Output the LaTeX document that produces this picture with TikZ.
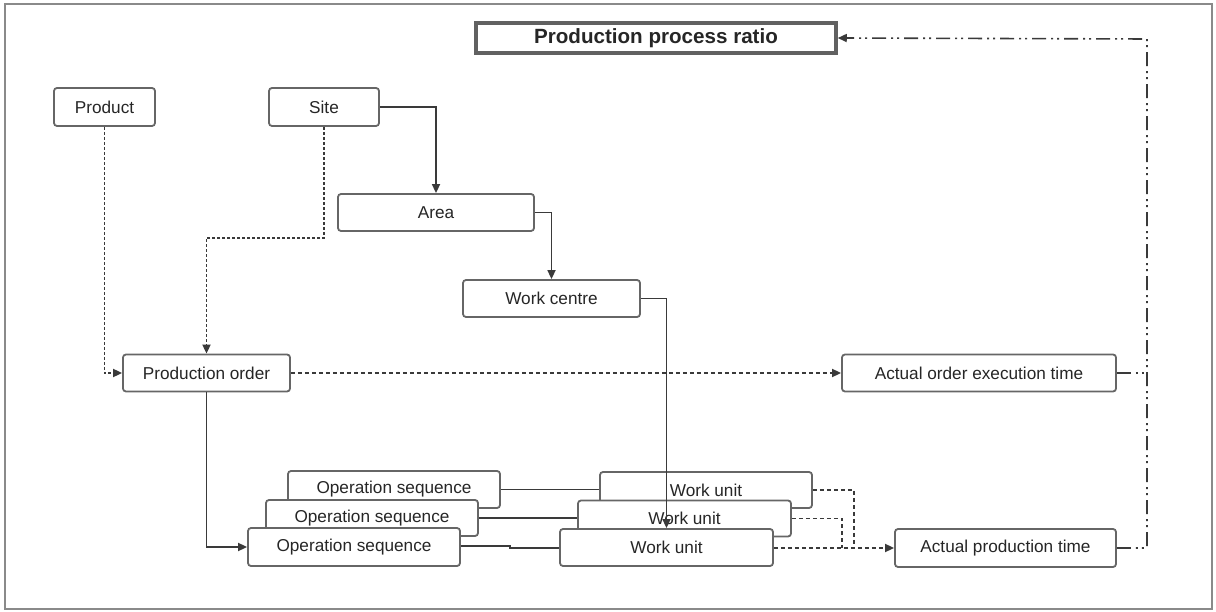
\documentclass[tikz,border=0pt]{standalone}
\usepackage{fontspec}
\setmainfont{Liberation Sans}
\usetikzlibrary{arrows.meta,calc}
\definecolor{boxline}{HTML}{666666}
\definecolor{wire}{HTML}{3A3A3A}
\definecolor{ink}{HTML}{262626}
\definecolor{framegray}{HTML}{8A8A8A}
\tikzset{
  entity/.style={draw=boxline, line width=1.8pt, rounded corners=3pt, fill=white,
    text=ink, inner sep=0pt, font=\fontsize{17.2}{20}\selectfont},
  titlebox/.style={draw=black!62, line width=3.5pt, fill=white, text=ink,
    inner sep=0pt, font=\bfseries\fontsize{20.6}{24}\selectfont},
  tip/.style={-{Triangle[length=9pt,width=8pt]}},
  solidwire/.style={draw=wire, line width=1.7pt},
  dotwire/.style={draw=wire, line width=1.8pt, dash pattern=on 3pt off 2pt},
  dashwire/.style={draw=wire, line width=1.7pt, dash pattern=on 4pt off 3pt},
  dashdotwire/.style={draw=wire, line width=1.6pt,
    dash pattern=on 14pt off 5pt on 2pt off 4pt on 2pt off 5pt}
}
\begin{document}
\begin{tikzpicture}[x=1pt, y=-1pt]
  \useasboundingbox (0,0) rectangle (1216,612);
  % outer frame
  \draw[framegray, line width=2.2pt] (5,4) rectangle (1212,609);

  % title
  \node[titlebox, minimum width=360pt, minimum height=30pt] (ratio) at (656,38) {Production process ratio};

  % upper entities
  \node[entity, minimum width=101pt, minimum height=38pt] (product) at (104.5,107) {Product};
  \node[entity, minimum width=110pt, minimum height=38pt] (site) at (324,107) {Site};
  \node[entity, minimum width=196pt, minimum height=37pt] (area) at (436,212.5) {Area};
  \node[entity, minimum width=177pt, minimum height=37pt] (wcentre) at (551.5,298.5) {Work centre};
  \node[entity, minimum width=167pt, minimum height=37pt] (porder) at (206.5,373) {Production order};
  \node[entity, minimum width=274pt, minimum height=37pt] (aoet) at (979,373) {Actual order execution time};
  \node[entity, minimum width=221pt, minimum height=38pt] (apt) at (1005.5,548) {Actual production time};

  % stacked operation sequences and work units (back to front)
  \node[entity, minimum width=212pt, minimum height=37pt] (os1) at (394,489.5) {Operation sequence};
  \node[entity, minimum width=212pt, minimum height=36pt] (wu1) at (706,490) {Work unit};
  \node[entity, minimum width=212pt, minimum height=36pt] (os2) at (372,518) {Operation sequence};
  \node[entity, minimum width=213pt, minimum height=36pt] (wu2) at (684.5,518.5) {Work unit};
  \node[entity, minimum width=212pt, minimum height=38pt] (os3) at (354,547) {Operation sequence};
  \node[entity, minimum width=213pt, minimum height=37pt] (wu3) at (666.5,547.5) {Work unit};

  % bend points
  \coordinate (sbend) at (324,238);
  \coordinate (jog1) at (510,546);
  \coordinate (jog2) at (510,548);
  \coordinate (join1) at (854,548);
  \coordinate (join2) at (842,548);
  \coordinate (rail) at (1147,39);

  % hierarchy
  \draw[solidwire, tip] (site.east) -| (area.north);
  \draw[solidwire, tip] (area.east) -| (wcentre.north);
  \draw[solidwire, tip] (porder.south) |- (os3.west);

  % references to production order
  \draw[dotwire, tip] (product.south) |- (porder.west);
  \draw[dotwire, tip] (site.south) -- (sbend) -| (porder.north);
  \draw[dashwire, tip] (porder.east) -- (aoet.west);

  % operation sequence to work unit
  \draw[solidwire] (os1.east) -- (os1.east -| wu1.west);
  \draw[solidwire] (os2.east) -- (os2.east -| wu2.west);
  \draw[solidwire] (os3.east |- jog1) -- (jog1) -- (jog2) -- (wu3.west |- jog2);

  % work centre to work unit
  \draw[solidwire, tip] (wcentre.east) -| (wu3.north);

  % work units to actual production time
  \draw[dashwire] (wu1.east) -| (join1);
  \draw[dashwire] (wu2.east) -| (join2);
  \draw[dashwire, tip] (wu3.east |- apt.west) -- (apt.west);

  % times to ratio
  \draw[dashdotwire] (aoet.east) -- (aoet.east -| rail);
  \draw[dashdotwire, tip] (apt.east) -| (rail) -- (ratio.east);
\end{tikzpicture}
\end{document}
